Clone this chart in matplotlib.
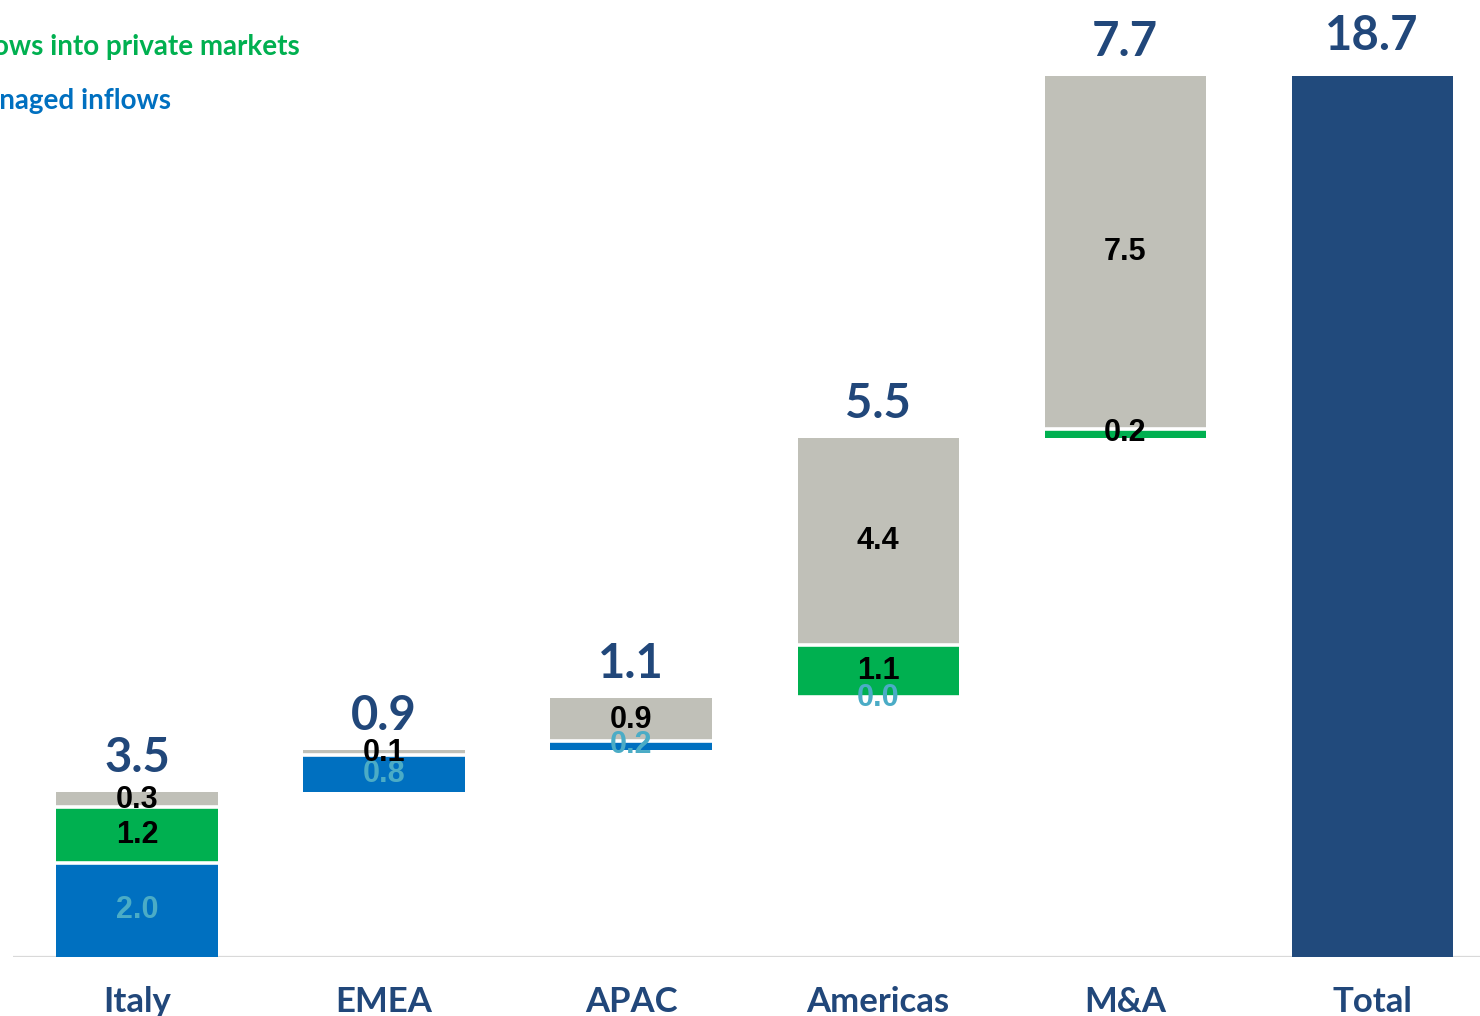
import matplotlib
matplotlib.use("Agg")
import matplotlib.pyplot as plt
import numpy as np

# flows by region, stacked per component, then a total bar
categories = ['Italy', 'EMEA', 'APAC', 'Americas', 'M&A', 'Total']
managed = [2.0, 0.8, 0.2, 0.04, 0.0]
private_mkts = [1.2, 0.0, 0.0, 1.1, 0.2]
other = [0.3, 0.1, 0.9, 4.4, 7.5]

legend_green = 'Net inflows into private markets'
legend_blue = 'Managed inflows'

BLUE = '#0070C0'
GREEN = '#00B050'
GREY = '#C0C0B8'
NAVY = '#21477A'
TOTAL_C = '#214A7C'
LIGHT_LBL = '#4BACC6'

W, H = 1480, 1016
fig = plt.figure(figsize=(W / 100, H / 100), dpi=100)
ax = fig.add_axes([13 / W, 59 / H, 1 - 13 / W, 957 / H])

x = np.arange(len(categories))
width = 0.652
segments = list(zip(managed, private_mkts, other))
seg_colors = [BLUE, GREEN, GREY]
lbl_colors = [LIGHT_LBL, 'black', 'black']

base = 0.0
for i, segs in enumerate(segments):
    bottom = base
    present = []
    for val, col, lc in zip(segs, seg_colors, lbl_colors):
        if val <= 0:
            continue
        ax.bar(x[i], val, width, bottom=bottom, color=col, linewidth=0, zorder=2)
        ax.text(x[i], bottom + val / 2, f'{val:.1f}', ha='center', va='center',
                color=lc, fontsize=22, fontweight='bold',
                family=['Liberation Sans', 'DejaVu Sans'], zorder=4)
        present.append(bottom)
        bottom += val
    # white gaps between stacked pieces
    for b in present[1:]:
        ax.hlines(b, x[i] - width / 2, x[i] + width / 2, color='white', lw=2.6, zorder=3)
    step = sum(segs)
    ax.annotate(f'{step:.1f}', (x[i], bottom), xytext=(0, 9), textcoords='offset points',
                ha='center', va='bottom', color=NAVY, fontsize=34, fontweight='bold',
                family=['Lato', 'DejaVu Sans'])
    base = bottom

total = base
ax.bar(x[-1], total, width, color=TOTAL_C, linewidth=0, zorder=2)
ax.annotate(f'{total:.1f}', (x[-1], total), xytext=(0, 13), textcoords='offset points',
            ha='center', va='bottom', color=NAVY, fontsize=34, fontweight='bold',
            family=['Lato', 'DejaVu Sans'])

ax.axhline(0, color='#D9D9D9', lw=1.6, zorder=1)

ax.set_xlim(-0.502, 5.437)
ax.set_ylim(0, 20.36)
ax.set_xticks(x)
ax.set_xticklabels(categories, fontsize=25, fontweight='bold', color=NAVY,
                   family=['Lato', 'DejaVu Sans'])
ax.tick_params(axis='x', length=0, pad=21)
ax.set_yticks([])
for s in ax.spines.values():
    s.set_visible(False)

# legend text along the top left
fig.text(300 / W, 1 - 55 / H, legend_green, ha='right', va='baseline', color=GREEN,
         fontsize=20, fontweight='bold', family=['Lato', 'DejaVu Sans'])
fig.text(171 / W, 1 - 109 / H, legend_blue, ha='right', va='baseline', color=BLUE,
         fontsize=20, fontweight='bold', family=['Lato', 'DejaVu Sans'])

fig.savefig('out.png', dpi=100)
